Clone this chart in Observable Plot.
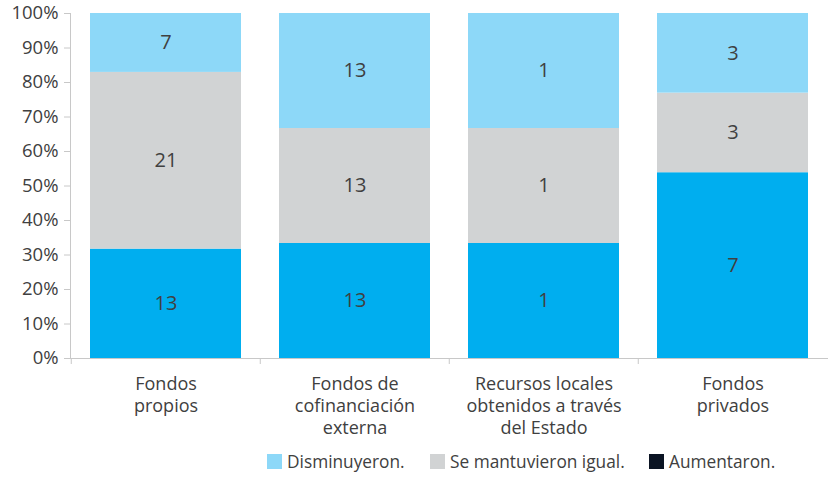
<!DOCTYPE html>
<html>
<head>
<meta charset="utf-8">
<script src="https://cdn.jsdelivr.net/npm/d3@7"></script>
<script src="https://cdn.jsdelivr.net/npm/@observablehq/plot@0.6"></script>
<style>
  body { margin: 0; background: #fff; font-family: "Open Sans", sans-serif; }
  #legend { position: relative; height: 32px; font-size: 17.3px; color: #404040; }
  .item { position: absolute; top: 0; height: 32px; display: flex; align-items: center; }
  .sw { width: 15px; height: 15px; margin-right: 5px; display: inline-block; }
</style>
</head>
<body>
<div id="chart"></div>
<div id="legend"></div>
<script>
const categories = ["Fondos propios", "Fondos de cofinanciación externa", "Recursos locales obtenidos a través del Estado", "Fondos privados"];
const categoryLabels = ["Fondos\npropios", "Fondos de\ncofinanciación\nexterna", "Recursos locales\nobtenidos a través\ndel Estado", "Fondos\nprivados"];
const series = ["Aumentaron.", "Se mantuvieron igual.", "Disminuyeron."];
const aumentaron = [13, 13, 1, 7];
const igual = [21, 13, 1, 3];
const disminuyeron = [7, 13, 1, 3];
const barColors = ["#00AEEF", "#D1D3D4", "#8DD8F8"];
const legendSeries = ["Disminuyeron.", "Se mantuvieron igual.", "Aumentaron."];
const legendColors = ["#8DD8F8", "#D1D3D4", "#0B1423"];
const yTicks = [0, 0.1, 0.2, 0.3, 0.4, 0.5, 0.6, 0.7, 0.8, 0.9, 1];

const values = [aumentaron, igual, disminuyeron];
const data = categories.flatMap((c, i) => series.map((s, j) => ({cat: c, serie: s, value: values[j][i]})));

const W = 828, ML = 70, MR = 0;
const step = (W - ML - MR) / categories.length;
const ink = "#404040";

const chart = Plot.plot({
  width: W,
  height: 445,
  marginLeft: ML,
  marginRight: MR,
  marginTop: 13,
  marginBottom: 87,
  style: {fontFamily: "Open Sans, sans-serif", color: ink, background: "#fff"},
  x: {domain: categories, paddingInner: 0.2, paddingOuter: 0.1, axis: null, label: null},
  y: {domain: [0, 1], axis: null, label: null},
  color: {domain: series, range: barColors},
  marks: [
    Plot.barY(data, Plot.stackY({offset: "normalize", x: "cat", y: "value", fill: "serie"})),
    Plot.text(data, Plot.stackY({offset: "normalize", x: "cat", y: "value", text: "value", fontSize: 20, fill: ink})),
    Plot.frame({anchor: "left", stroke: "#C8C8C8"}),
    Plot.frame({anchor: "bottom", stroke: "#C8C8C8"}),
    Plot.axisY({ticks: yTicks, tickFormat: d3.format(".0%"), tickSize: 6, tickPadding: 6, fontSize: 18.5, stroke: "#C8C8C8", fill: ink, label: null}),
    Plot.ruleX(categories, {x: d => d, dx: -step / 2, y1: 0, y2: 0, insetBottom: -6, stroke: "#C8C8C8"}),
    Plot.axisX({tickSize: 0, tickPadding: 16, fontSize: 18, lineHeight: 1.22, fill: ink, label: null,
      tickFormat: d => categoryLabels[categories.indexOf(d)]})
  ]
});
document.getElementById("chart").appendChild(chart);

const legend = document.getElementById("legend");
const lefts = [267, 430, 649];
legendSeries.forEach((s, i) => {
  const it = document.createElement("div");
  it.className = "item";
  it.style.left = lefts[i] + "px";
  const sw = document.createElement("span");
  sw.className = "sw";
  sw.style.background = legendColors[i];
  it.appendChild(sw);
  it.appendChild(document.createTextNode(s));
  legend.appendChild(it);
});
</script>
</body>
</html>
